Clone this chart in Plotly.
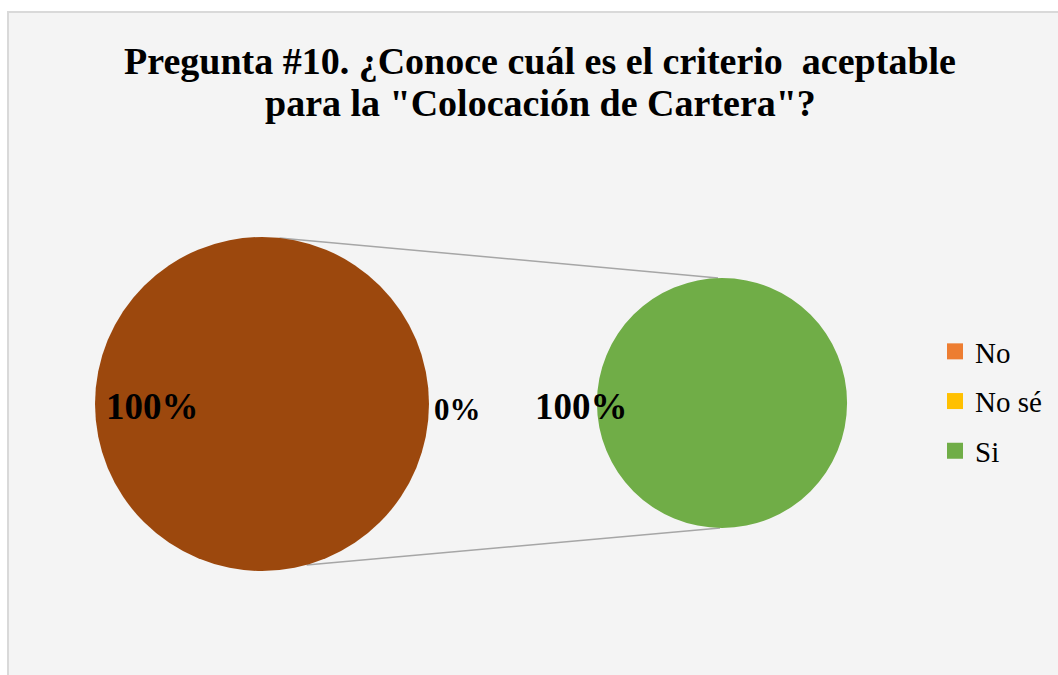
import math
import plotly.graph_objects as go

# ---- data ----
categories = ["No", "No sé", "Si"]
percent = [0, 0, 100]
colors = ["#ED7D31", "#FFC000", "#70AD47"]
other_color = "#9C480D"
title_lines = ["Pregunta #10. ¿Conoce cuál es el criterio  aceptable",
               "para la \"Colocación de Cartera\"?"]

W, H = 1058, 675

# main pie: "No" + "Otro" (No sé + Si); secondary pie: Si
main_labels = ["No", "Otro"]
main_values = [percent[0], percent[1] + percent[2]]
second_labels = ["Si"]
second_values = [percent[2]]

# layout geometry (pixels)
c1x, c1y, r1 = 262, 404, 167
c2x, c2y, r2 = 722, 403, 125


def dom(cx, cy, r):
    return dict(x=[(cx - r) / W, (cx + r) / W],
                y=[(H - cy - r) / H, (H - cy + r) / H])


fig = go.Figure()
fig.add_trace(go.Pie(labels=main_labels, values=main_values,
                     marker=dict(colors=[colors[0], other_color], line=dict(width=0)),
                     textinfo="none", sort=False, direction="clockwise",
                     rotation=90, showlegend=False, domain=dom(c1x, c1y, r1),
                     hoverinfo="label+percent"))
fig.add_trace(go.Pie(labels=second_labels, values=second_values,
                     marker=dict(colors=[colors[2]], line=dict(width=0)),
                     textinfo="none", sort=False, showlegend=False,
                     domain=dom(c2x, c2y, r2), hoverinfo="label+percent"))

# legend entries
for i, (cat, col) in enumerate(zip(categories, colors)):
    fig.add_trace(go.Scatter(x=[None], y=[None], mode="markers", name=cat,
                             marker=dict(symbol="square", size=16, color=col),
                             legendgroup=cat, showlegend=True))


def px(x):
    return x / W


def py(y):
    return 1 - y / H


shapes = []
# chart area background
shapes.append(dict(type="rect", xref="paper", yref="paper",
                   x0=px(8), x1=px(W + 10), y0=py(H + 10), y1=py(12),
                   fillcolor="#F4F4F4", line=dict(color="#D9D9D9", width=2),
                   layer="below"))
# connector lines
a_top = math.radians(6)
a_bot = math.radians(15.5)
shapes.append(dict(type="line", xref="paper", yref="paper",
                   x0=px(c1x + r1 * math.sin(a_top)), y0=py(c1y - r1 * math.cos(a_top)),
                   x1=px(c2x - 4), y1=py(c2y - r2),
                   line=dict(color="#A6A6A6", width=1.5), layer="below"))
shapes.append(dict(type="line", xref="paper", yref="paper",
                   x0=px(c1x + r1 * math.sin(a_bot)), y0=py(c1y + r1 * math.cos(a_bot)),
                   x1=px(c2x - 2), y1=py(c2y + r2),
                   line=dict(color="#A6A6A6", width=1.5), layer="below"))

lbl_font = dict(family="Liberation Serif", size=37, color="#000000")
annotations = [
    dict(text="<b>%d%%</b>" % main_values[1], x=px(104), y=py(406), xref="paper", yref="paper",
         xanchor="left", yanchor="middle", showarrow=False, font=lbl_font),
    dict(text="<b>%d%%</b>" % main_values[0], x=px(432), y=py(409), xref="paper", yref="paper",
         xanchor="left", yanchor="middle", showarrow=False,
         font=dict(family="Liberation Serif", size=31, color="#000000")),
    dict(text="<b>%d%%</b>" % second_values[0], x=px(533), y=py(406), xref="paper", yref="paper",
         xanchor="left", yanchor="middle", showarrow=False, font=lbl_font),
]
title_font = dict(family="Liberation Serif", size=38, color="#000000")
for line, yc in zip(title_lines, [61, 103]):
    annotations.append(dict(text="<b>%s</b>" % line, x=px(540), y=py(yc),
                            xref="paper", yref="paper", xanchor="center",
                            yanchor="middle", showarrow=False, font=title_font))

fig.update_layout(
    width=W, height=H,
    margin=dict(l=0, r=0, t=0, b=0),
    paper_bgcolor="#FFFFFF", plot_bgcolor="rgba(0,0,0,0)",
    xaxis=dict(visible=False), yaxis=dict(visible=False),
    shapes=shapes, annotations=annotations,
    legend=dict(x=px(935), y=py(326), xanchor="left", yanchor="top",
                bgcolor="rgba(0,0,0,0)", tracegroupgap=9,
                font=dict(family="Liberation Serif", size=29, color="#000000")),
)

fig.write_html("out.html")
